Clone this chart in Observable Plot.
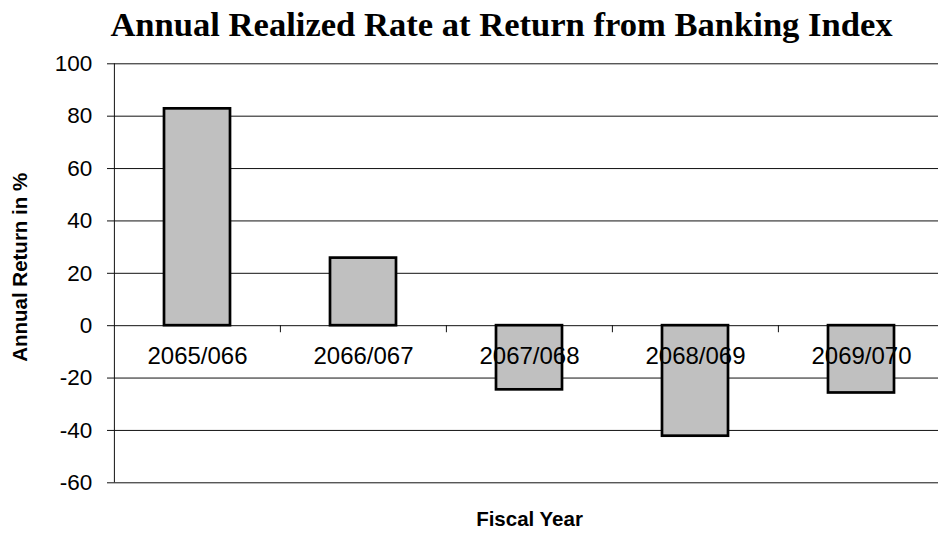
<!DOCTYPE html>
<html>
<head>
<meta charset="utf-8">
<script src="https://cdn.jsdelivr.net/npm/d3@7"></script>
<script src="https://cdn.jsdelivr.net/npm/@observablehq/plot@0.6"></script>
<style>
  html, body { margin: 0; padding: 0; background: #fff; }
  #wrap { width: 938px; height: 533px; overflow: hidden; }
  #title {
    box-sizing: border-box;
    height: 50px;
    padding: 6px 0 0 65px;
    line-height: 36px;
    text-align: center;
    font-family: "Liberation Serif", "Times New Roman", serif;
    font-weight: bold;
    font-size: 34.6px;
    color: #000;
    white-space: nowrap;
  }
  svg { display: block; }
</style>
</head>
<body>
<div id="wrap">
  <div id="title">Annual Realized Rate at Return from Banking Index</div>
  <div id="chart"></div>
</div>
<script>
// Fiscal years and the realized annual return of the banking index (%)
const fiscalYears = ["2065/066", "2066/067", "2067/068", "2068/069", "2069/070"];
const annualReturns = [82.8, 25.8, -24.5, -42.2, -25.7];
const yTicks = [-60, -40, -20, 0, 20, 40, 60, 80, 100];

const rows = fiscalYears.map((year, i) => ({year, ret: annualReturns[i]}));

const sans = "'Liberation Sans', Arial, sans-serif";
const xRange = [114, 945];
const step = (xRange[1] - xRange[0]) / fiscalYears.length;

const chart = Plot.plot({
  width: 938,
  height: 483,
  marginLeft: 114,
  marginRight: 0,
  marginTop: 13.3,
  marginBottom: 50.7,
  style: {fontFamily: sans, background: "#fff", color: "#000", overflow: "visible"},
  x: {domain: fiscalYears, range: xRange, paddingInner: 0.6, paddingOuter: 0.3, axis: null},
  y: {domain: [-60, 100], nice: false, axis: null},
  marks: [
    // horizontal gridlines, the zero line doubling as the category axis
    Plot.gridY(yTicks, {stroke: "#111", strokeOpacity: 1, strokeWidth: 1}),
    // value axis with outward ticks
    Plot.axisY(yTicks, {
      label: null, tickSize: 7, tickPadding: 15.3, fontSize: 22.5, stroke: "#111",
      tickFormat: d => String(d)
    }),
    // vertical axis line at the left edge of the first band
    Plot.ruleX([fiscalYears[0]], {x: d => d, y1: -60, y2: 100, dx: -step / 2, stroke: "#111", strokeWidth: 1}),
    // short ticks on the zero line between categories
    Plot.ruleX(fiscalYears.slice(1), {x: d => d, y1: 0, y2: -2.7, dx: -step / 2, stroke: "#111", strokeWidth: 1}),
    Plot.barY(rows, {x: "year", y: "ret", fill: "#c0c0c0", stroke: "#000", strokeWidth: 2.7}),
    // category labels sit just under the zero line
    Plot.text(rows, {x: "year", y: () => 0, text: "year", dy: 30.6, fontSize: 24, fill: "#000"}),
    Plot.text(["Annual Return in %"], {
      frameAnchor: "left", textAnchor: "middle", rotate: -90, dx: -94.5, dy: -6,
      fontSize: 20.5, fontWeight: "bold", fill: "#000"
    }),
    Plot.text(["Fiscal Year"], {
      frameAnchor: "bottom", dx: 3, dy: 42.7,
      fontSize: 20.5, fontWeight: "bold", fill: "#000"
    })
  ]
});

document.getElementById("chart").appendChild(chart);
</script>
</body>
</html>
